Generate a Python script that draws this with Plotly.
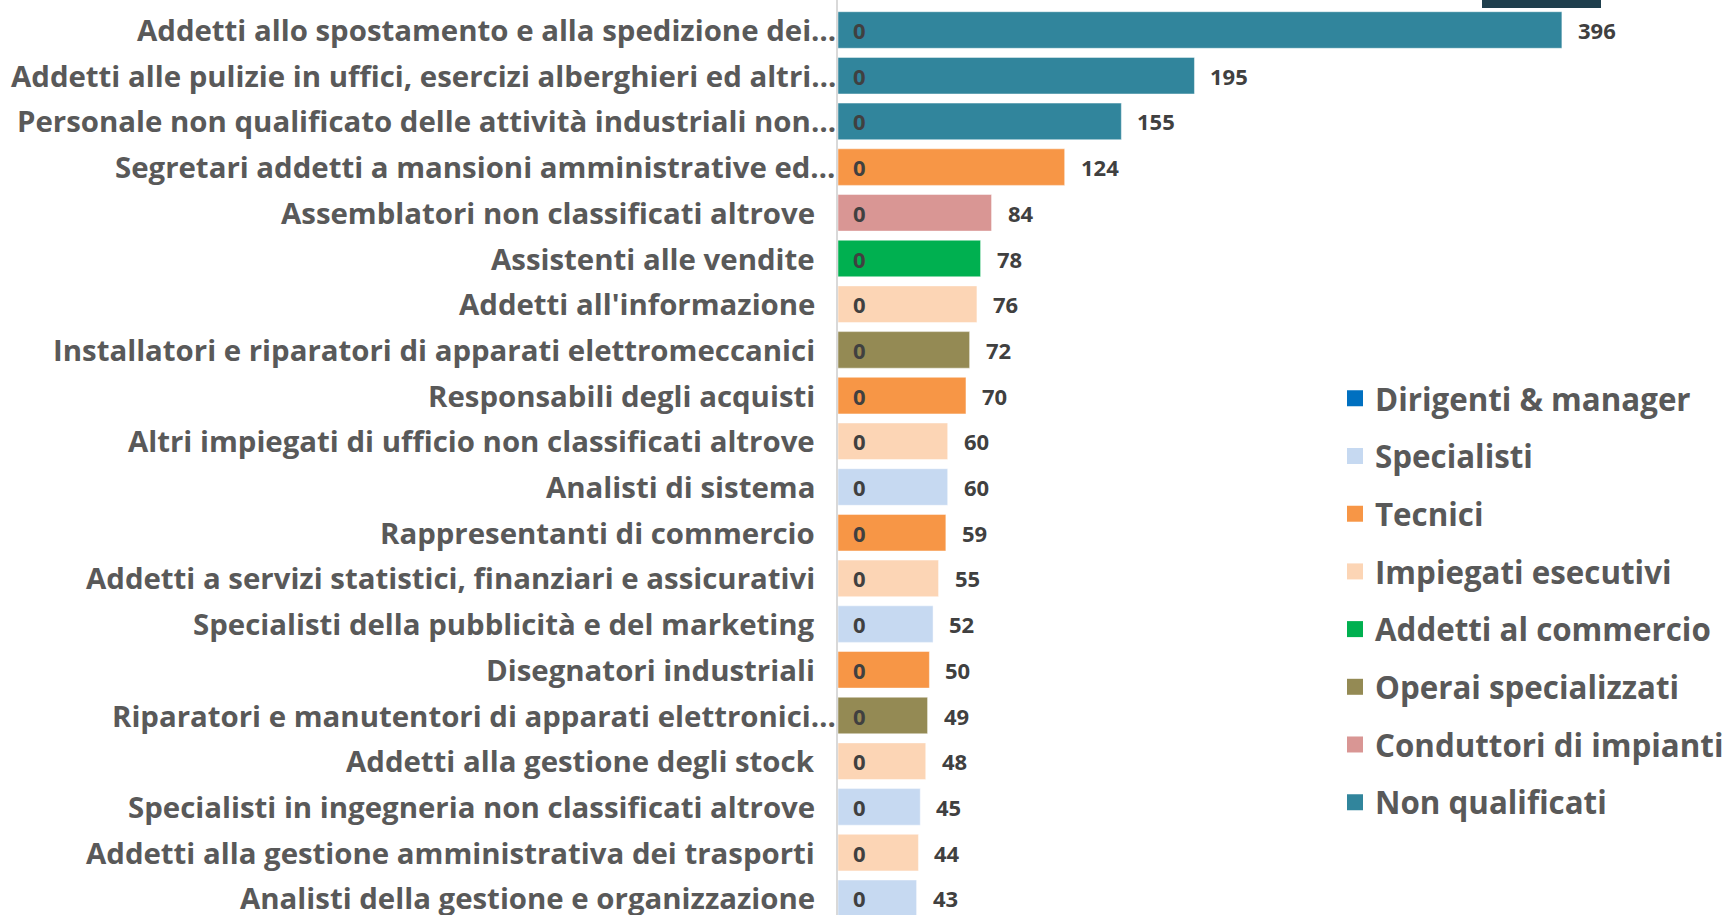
import plotly.graph_objects as go

categories = [
    "Addetti allo spostamento e alla spedizione dei…",
    "Addetti alle pulizie in uffici, esercizi alberghieri ed altri…",
    "Personale non qualificato delle attività industriali non…",
    "Segretari addetti a mansioni amministrative ed…",
    "Assemblatori non classificati altrove",
    "Assistenti alle vendite",
    "Addetti all'informazione",
    "Installatori e riparatori di apparati elettromeccanici",
    "Responsabili degli acquisti",
    "Altri impiegati di ufficio non classificati altrove",
    "Analisti di sistema",
    "Rappresentanti di commercio",
    "Addetti a servizi statistici, finanziari e assicurativi",
    "Specialisti della pubblicità e del marketing",
    "Disegnatori industriali",
    "Riparatori e manutentori di apparati elettronici…",
    "Addetti alla gestione degli stock",
    "Specialisti in ingegneria non classificati altrove",
    "Addetti alla gestione amministrativa dei trasporti",
    "Analisti della gestione e organizzazione",
]
values = [396, 195, 155, 124, 84, 78, 76, 72, 70, 60, 60, 59, 55, 52, 50, 49, 48, 45, 44, 43]
groups = [
    "Non qualificati", "Non qualificati", "Non qualificati", "Tecnici",
    "Conduttori di impianti", "Addetti al commercio", "Impiegati esecutivi",
    "Operai specializzati", "Tecnici", "Impiegati esecutivi", "Specialisti",
    "Tecnici", "Impiegati esecutivi", "Specialisti", "Tecnici",
    "Operai specializzati", "Impiegati esecutivi", "Specialisti",
    "Impiegati esecutivi", "Specialisti",
]
dirigenti_values = [0] * len(categories)

series_names = [
    "Dirigenti & manager", "Specialisti", "Tecnici", "Impiegati esecutivi",
    "Addetti al commercio", "Operai specializzati", "Conduttori di impianti",
    "Non qualificati",
]
series_colors = ["#0070C0", "#C6D9F1", "#F79646", "#FCD5B5",
                 "#00B050", "#948A54", "#D99694", "#31859C"]

W, H = 1732, 915
ML = 838
px_per_unit = 1.828
row_px = 45.7
first_center = 30

LABEL_FONT = "'Open Sans', sans-serif"

fig = go.Figure()
positions = list(range(len(categories)))
for name, color in zip(series_names, series_colors):
    ys = [p for p, g in zip(positions, groups) if g == name]
    xs = [v for v, g in zip(values, groups) if g == name]
    fig.add_trace(go.Bar(
        x=xs, y=ys, orientation="h", name=name,
        marker=dict(color=color, line=dict(color="rgba(255,255,255,0.45)", width=1)),
        width=0.8, legendgroup=name, showlegend=False, hoverinfo="skip",
    ))
    # legend entry with a larger square swatch
    fig.add_trace(go.Scatter(
        x=[None], y=[None], mode="markers", name=name, legendgroup=name,
        marker=dict(symbol="square", size=19, color=color),
        showlegend=True, hoverinfo="skip",
    ))

annotations = []
for p, cat in zip(positions, categories):
    # truncated (ellipsis) labels overflow towards the axis, as in the source chart
    shift = 0 if cat.endswith("…") else -21
    annotations.append(dict(x=0, y=p, xref="paper", yref="y", text=cat,
                            showarrow=False, xanchor="right", xshift=shift,
                            font=dict(family=LABEL_FONT, size=29.4, color="#595959",
                                      weight="bold")))
for p, v, d in zip(positions, values, dirigenti_values):
    annotations.append(dict(x=d, y=p, xref="x", yref="y", text=f"<b>{d}</b>",
                            showarrow=False, xanchor="left", xshift=13,
                            font=dict(family=LABEL_FONT, size=22, color="#404040")))
    annotations.append(dict(x=v, y=p, xref="x", yref="y", text=f"<b>{v}</b>",
                            showarrow=False, xanchor="left", xshift=14,
                            font=dict(family=LABEL_FONT, size=22, color="#404040")))

plot_w = W - ML
y_top = -first_center / row_px
y_bot = (len(categories) - 1) + (H - (first_center + row_px * (len(categories) - 1))) / row_px

fig.update_layout(
    width=W, height=H,
    margin=dict(l=ML, r=0, t=0, b=0, pad=0, autoexpand=False),
    paper_bgcolor="white", plot_bgcolor="white",
    barmode="overlay",
    showlegend=True,
    legend=dict(
        xref="container", yref="container", x=1335 / W, y=1 - 600.5 / H,
        xanchor="left", yanchor="middle", traceorder="grouped",
        tracegroupgap=14, bgcolor="rgba(0,0,0,0)", itemsizing="trace",
        maxheight=880,
        font=dict(family=LABEL_FONT, size=31.3, color="#595959", weight="bold"),
    ),
    xaxis=dict(range=[0, plot_w / px_per_unit], visible=False, showgrid=False,
               zeroline=False, fixedrange=True),
    yaxis=dict(range=[y_bot, y_top], tickmode="array", tickvals=positions,
               showticklabels=False, showline=True, linecolor="#D9D9D9",
               linewidth=2, ticks="", showgrid=False, zeroline=False),
    annotations=annotations,
    shapes=[dict(type="rect", xref="paper", yref="paper",
                 x0=(1482 - ML) / plot_w, x1=(1601 - ML) / plot_w,
                 y0=1 - 8 / H, y1=1.0, fillcolor="#1F3F4D", line=dict(width=0),
                 layer="above")],
)

fig.write_html("out.html",
               config={"displayModeBar": False},
               post_script="document.body.style.margin='0px';"
                           "document.body.style.overflow='hidden';")
